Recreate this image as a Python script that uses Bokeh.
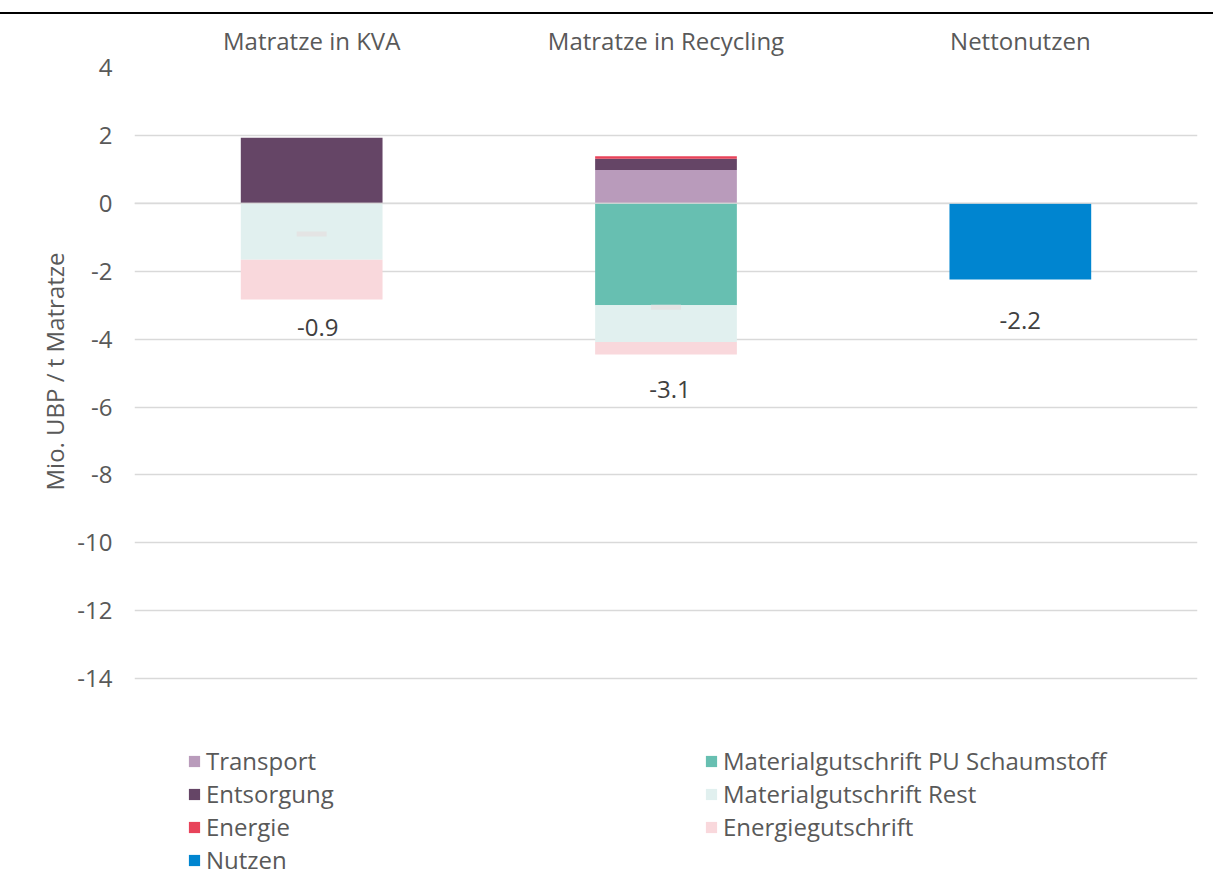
from bokeh.plotting import figure
from bokeh.models import (ColumnDataSource, FixedTicker, Legend, LegendItem, Range1d,
                          Title, Span)
from bokeh.embed import file_html
from bokeh.resources import INLINE
from bokeh.core.properties import value

# ---- data (Mio. UBP / t Matratze) ----
categories = ["Matratze in KVA", "Matratze in Recycling", "Nettonutzen"]
transport = [0.0, 0.98, 0.0]
entsorgung = [1.93, 0.33, 0.0]
energie = [0.0, 0.08, 0.0]
pu_schaumstoff = [0.0, -3.00, 0.0]
material_rest = [-1.66, -1.08, 0.0]
energiegutschrift = [-1.17, -0.37, 0.0]
nutzen = [0.0, 0.0, -2.24]
y_ticks = [-14, -12, -10, -8, -6, -4, -2, 0, 2, 4]
y_tick_labels = ["-14", "-12", "-10", "-8", "-6", "-4", "-2", "0", "2", "4"]
y_title = "Mio. UBP / t Matratze"

# ---- styles ----
FONT = "Open Sans"
FS = "24px"
GREY = "#595959"
DARK = "#404040"
pos_fields = ["transport", "entsorgung", "energie"]
pos_colors = ["#b99bbb", "#654566", "#e8435a"]
neg_fields = ["pu", "rest", "eg", "nutzen"]
neg_colors = ["#67bfb1", "#e1f0ef", "#f9d8dc", "#0085d0"]
label_dy_px = [28, 35, 41]
label_dx_px = [6, 4, 0]

n = len(categories)
xpos = [i + 0.5 for i in range(n)]  # category slot centres

src = ColumnDataSource(dict(
    x=xpos, transport=transport, entsorgung=entsorgung, energie=energie,
    pu=pu_schaumstoff, rest=material_rest, eg=energiegutschrift, nutzen=nutzen,
))

pos_sum = [transport[i] + entsorgung[i] + energie[i] for i in range(n)]
neg_sum = [pu_schaumstoff[i] + material_rest[i] + energiegutschrift[i] + nutzen[i] for i in range(n)]
net = [pos_sum[i] + neg_sum[i] for i in range(n)]

# frame: 67..875 px tall, 34 px per unit -> y from 4 down to -19.79
p = figure(x_range=Range1d(0, n), y_range=Range1d(-19.794, 4), width=1213, height=861,
           x_axis_location="above", output_backend="svg", toolbar_location=None,
           min_border_left=134, min_border_right=16, min_border_top=53, min_border_bottom=0)
p.outline_line_color = None
p.margin = (12, 0, 0, 0)
p.styles = {"border-top": "2px solid #000000"}

pos_r = p.vbar_stack(pos_fields, x="x", width=0.4, source=src,
                     fill_color=pos_colors, line_color=None)
neg_r = p.vbar_stack(neg_fields, x="x", width=0.4, source=src,
                     fill_color=neg_colors, line_color=None)

# zero line drawn over the bars
p.add_layout(Span(location=0, dimension="width", line_color="#d9d9d9",
                  line_alpha=0.8, line_width=1.5, level="overlay"))

# net markers
p.scatter(x=xpos[:2], y=net[:2], marker="dash", size=30,
          line_color="#e4e4e4", line_width=5)

# net labels
lab_src = ColumnDataSource(dict(
    x=xpos, y=neg_sum, txt=["{:.1f}".format(v) for v in net],
    dy=label_dy_px, dx=label_dx_px))
p.text(x="x", y="y", text="txt", source=lab_src, y_offset="dy", x_offset="dx",
       text_align="center", text_baseline="middle", text_font=value(FONT),
       text_font_size=FS, text_color=DARK)

# category axis (top)
xa = p.xaxis[0]
xa.ticker = FixedTicker(ticks=xpos)
xa.major_label_overrides = {x: c for x, c in zip(xpos, categories)}
xa.axis_line_color = None
xa.major_tick_line_color = None
xa.minor_tick_line_color = None
xa.major_tick_out = 0
xa.major_tick_in = 0
xa.minor_tick_out = 0
xa.major_label_text_font = FONT
xa.major_label_text_font_size = FS
xa.major_label_text_color = GREY
xa.major_label_standoff = 11

ya = p.yaxis[0]
ya.ticker = FixedTicker(ticks=y_ticks)
ya.bounds = (-14, 4)
ya.major_label_overrides = {t: l for t, l in zip(y_ticks, y_tick_labels)}
ya.axis_line_color = None
ya.major_tick_line_color = None
ya.minor_tick_line_color = None
ya.major_tick_out = 0
ya.major_tick_in = 0
ya.major_label_text_font = FONT
ya.major_label_text_font_size = FS
ya.major_label_text_color = GREY
ya.major_label_standoff = 22

# y-axis title, centred on the -14..4 plot area (not on the whole frame)
p.add_layout(Title(text=y_title, align="left", offset=385, standoff=8,
                   text_font=FONT, text_font_size=FS, text_font_style="normal",
                   text_color=GREY), "left")

p.xgrid.grid_line_color = None
p.ygrid.grid_line_color = "#d9d9d9"
p.ygrid.grid_line_width = 1.5


def make_legend(items, loc):
    return Legend(items=items, location=loc, orientation="vertical",
                  glyph_width=14, glyph_height=14, label_standoff=5,
                  label_height=33, spacing=0, padding=0, margin=0,
                  border_line_color=None, background_fill_alpha=0,
                  label_text_font=FONT, label_text_font_size=FS,
                  label_text_color=GREY)


leg1 = make_legend([
    LegendItem(label="Transport", renderers=[pos_r[0]]),
    LegendItem(label="Entsorgung", renderers=[pos_r[1]]),
    LegendItem(label="Energie", renderers=[pos_r[2]]),
    LegendItem(label="Nutzen", renderers=[neg_r[3]]),
], (53, -1))
leg2 = make_legend([
    LegendItem(label="Materialgutschrift PU Schaumstoff", renderers=[neg_r[0]]),
    LegendItem(label="Materialgutschrift Rest", renderers=[neg_r[1]]),
    LegendItem(label="Energiegutschrift", renderers=[neg_r[2]]),
], (570, 32))
p.add_layout(leg1)
p.add_layout(leg2)

open("out.html", "w").write(file_html(p, INLINE))
